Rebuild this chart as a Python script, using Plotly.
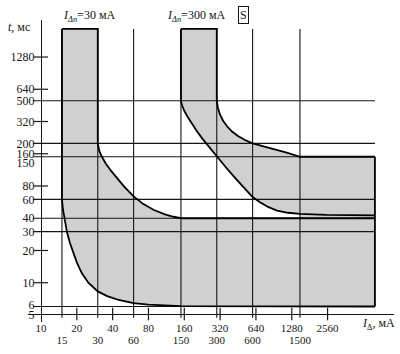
import math
import plotly.graph_objects as go

# ---------------- data (current in mA, time in ms) ----------------
I_MAX = 6400      # right end of the characteristic bands
T_MAX = 2340      # top of the time bands

# 30 mA device: upper (max trip time) boundary
i30_up = [15, 30, 30, 30.3, 31, 32.5, 35, 39, 44, 50, 60, 72, 88, 110, 130, 150, I_MAX]
t30_up = [T_MAX, T_MAX, 200, 185, 168, 150, 130, 110, 93, 79, 64, 54.5, 48, 43.5, 41.3, 40, 40]
# 30 mA device: lower (min) boundary
i30_lo = [15, 15, 15.3, 15.8, 16.5, 17.5, 18.6, 20, 22, 25, 30, 36, 45, 60, 80, 100, 150, I_MAX]
t30_lo = [T_MAX, 60, 48, 38, 30, 23.5, 19, 15.5, 12.3, 10, 8.3, 7.5, 6.9, 6.45, 6.25, 6.15, 6.05, 6]

# 300 mA selective (S) device: upper boundary
iS_up = [150, 300, 300, 307, 319, 338, 366, 403, 452, 518, 600, 771, 957, 1180, 1500, I_MAX]
tS_up = [T_MAX, T_MAX, 500, 428, 372, 327, 289, 258, 234, 215, 200, 186, 174, 163, 150, 150]
# 300 mA S device: lower boundary
iS_lo = [150, 150, 153, 159, 169, 182, 201, 225, 258, 300, 359, 427, 508, 600, 693, 809, 962,
         1190, 1500, 2500, I_MAX]
tS_lo = [T_MAX, 500, 454, 408, 360, 313, 267, 224, 185, 150, 119, 95.4, 77, 63, 56.3, 51, 47.2,
         45, 44, 43, 42.5]

# right box
box_i = [1500, I_MAX]
box_t = [6, 150]

# grid and ticks
h_grid = [500, 200, 150, 60, 40, 30, 6]
v_grid = [15, 30, 60, 150, 300, 600, 1500]
y_minor = [10, 20, 80, 160, 320, 640, 1280]
x_minor = [20, 40, 80, 160, 320, 640, 1280, 2560]
y_labels = [5, 10, 20, 30, 40, 60, 80, 160, 200, 320, 500, 640, 1280]
y_labels_down = [150]
y_labels_up = [6]
x_labels_row1 = [10, 20, 40, 80, 160, 320, 640, 1280, 2560]
x_labels_row2 = [15, 30, 60, 150, 300, 600, 1500]

# axis crossing and grid extents
X_AXIS_AT_T = 5.1     # ms level of the current axis
Y_AXIS_AT_I = 10      # mA level of the time axis
GRID_LEFT_I = 8.6
GRID_BOTTOM_T = 4.7

# ---------------- layout geometry ----------------
W, H = 400, 354
ML, MR, MT, MB = 28, 6, 20, 32
XR = [0.8908, 3.9664]
YR = [0.6332, 3.453]
PW, PH = W - ML - MR, H - MT - MB

def px2paper(px, py):
    return (px - ML) / PW, (H - MB - py) / PH

FILL = "#d0d0d0"
INK = "#151515"
FONT = "Liberation Serif"

fig = go.Figure()

# shaded bands
fig.add_trace(go.Scatter(x=i30_up + i30_lo[::-1], y=t30_up + t30_lo[::-1],
                         fill="toself", fillcolor=FILL, mode="lines",
                         line=dict(width=0), hoverinfo="skip", showlegend=False))
fig.add_trace(go.Scatter(x=iS_up + iS_lo[::-1], y=tS_up + tS_lo[::-1],
                         fill="toself", fillcolor=FILL, mode="lines",
                         line=dict(width=0), hoverinfo="skip", showlegend=False))
fig.add_trace(go.Scatter(x=[box_i[0], box_i[0], box_i[1], box_i[1]],
                         y=[box_t[0], box_t[1], box_t[1], box_t[0]],
                         fill="toself", fillcolor=FILL, mode="lines",
                         line=dict(width=0), hoverinfo="skip", showlegend=False))

# grid lines
for v in h_grid:
    fig.add_trace(go.Scatter(x=[GRID_LEFT_I, I_MAX], y=[v, v], mode="lines",
                             line=dict(color=INK, width=1.1), hoverinfo="skip", showlegend=False))
for v in v_grid:
    fig.add_trace(go.Scatter(x=[v, v], y=[GRID_BOTTOM_T, T_MAX], mode="lines",
                             line=dict(color=INK, width=1.1), hoverinfo="skip", showlegend=False))

# boundary curves
for xs, ys in [(i30_up, t30_up), (i30_lo, t30_lo), (iS_up, tS_up), (iS_lo, tS_lo),
               ([box_i[1], box_i[1]], [box_t[1], box_t[0]])]:
    fig.add_trace(go.Scatter(x=xs, y=ys, mode="lines",
                             line=dict(color="black", width=1.8, shape="linear"),
                             hoverinfo="skip", showlegend=False))

# crossing tick marks
fig.add_trace(go.Scatter(x=[Y_AXIS_AT_I] * len(y_minor), y=y_minor, mode="markers",
                         marker=dict(symbol="line-ew", size=10, line=dict(color=INK, width=1.2)),
                         hoverinfo="skip", showlegend=False, cliponaxis=False))
fig.add_trace(go.Scatter(x=x_minor, y=[X_AXIS_AT_T] * len(x_minor), mode="markers",
                         marker=dict(symbol="line-ns", size=9, line=dict(color=INK, width=1.2)),
                         hoverinfo="skip", showlegend=False, cliponaxis=False))

# invisible anchors for overlay axes
for xa, ya in [("x2", "y"), ("x", "y2"), ("x", "y3")]:
    fig.add_trace(go.Scatter(x=[100], y=[100], xaxis=xa, yaxis=ya, mode="markers",
                             marker=dict(opacity=0), hoverinfo="skip", showlegend=False))

ypos = (math.log10(Y_AXIS_AT_I) - XR[0]) / (XR[1] - XR[0])
xpos = (math.log10(X_AXIS_AT_T) - YR[0]) / (YR[1] - YR[0])

tickfont_x = dict(family=FONT, size=11, color=INK)
tickfont_y = dict(family=FONT, size=12, color=INK)

common_x = dict(type="log", range=XR, anchor="free", position=xpos, showgrid=False,
                zeroline=False, ticks="outside", ticklen=4, tickcolor="rgba(0,0,0,0)",
                tickfont=tickfont_x)
common_y = dict(type="log", range=YR, anchor="free", position=ypos, showgrid=False,
                zeroline=False, ticks="outside", ticklen=4, tickcolor="rgba(0,0,0,0)",
                tickfont=tickfont_y)

def lab(vals):
    return [str(v) for v in vals]

fig.update_layout(
    width=W, height=H, autosize=False,
    margin=dict(l=ML, r=MR, t=MT, b=MB, pad=0),
    paper_bgcolor="white", plot_bgcolor="white",
    xaxis=dict(**common_x, tickvals=x_labels_row1, ticktext=lab(x_labels_row1),
               showline=True, linecolor=INK, linewidth=1.3),
    xaxis2=dict(**common_x, overlaying="x", matches="x", tickvals=x_labels_row2,
                ticktext=lab(x_labels_row2), showline=False, ticklabelstandoff=12),
    yaxis=dict(**common_y, tickvals=y_labels, ticktext=lab(y_labels),
               showline=True, linecolor=INK, linewidth=1.3),
    yaxis2=dict(**common_y, overlaying="y", matches="y", tickvals=y_labels_down,
                ticktext=lab(y_labels_down), showline=False, ticklabelshift=6),
    yaxis3=dict(**common_y, overlaying="y", matches="y", tickvals=y_labels_up,
                ticktext=lab(y_labels_up), showline=False, ticklabelshift=-2),
    font=dict(family=FONT, size=12, color=INK),
)

ann_font = dict(family=FONT, size=12, color=INK)
def ann(text, px, py, xanchor="left", **kw):
    x, y = px2paper(px, py)
    fig.add_annotation(text=text, x=x, y=y, xref="paper", yref="paper", xanchor=xanchor,
                       yanchor="middle", showarrow=False, font=ann_font, **kw)

ann("<i>I</i><sub><i>Δn</i></sub>=30 мА", 61, 16)
ann("<i>I</i><sub><i>Δn</i></sub>=300 мА", 165, 16)
ann("S", 243, 15, xanchor="center", bordercolor=INK, borderwidth=1, borderpad=1)
ann("<i>t</i>, мс", 6, 27)
ann("<i>I</i><sub>Δ</sub>, мА", 360, 324)

fig.write_html("out.html")
